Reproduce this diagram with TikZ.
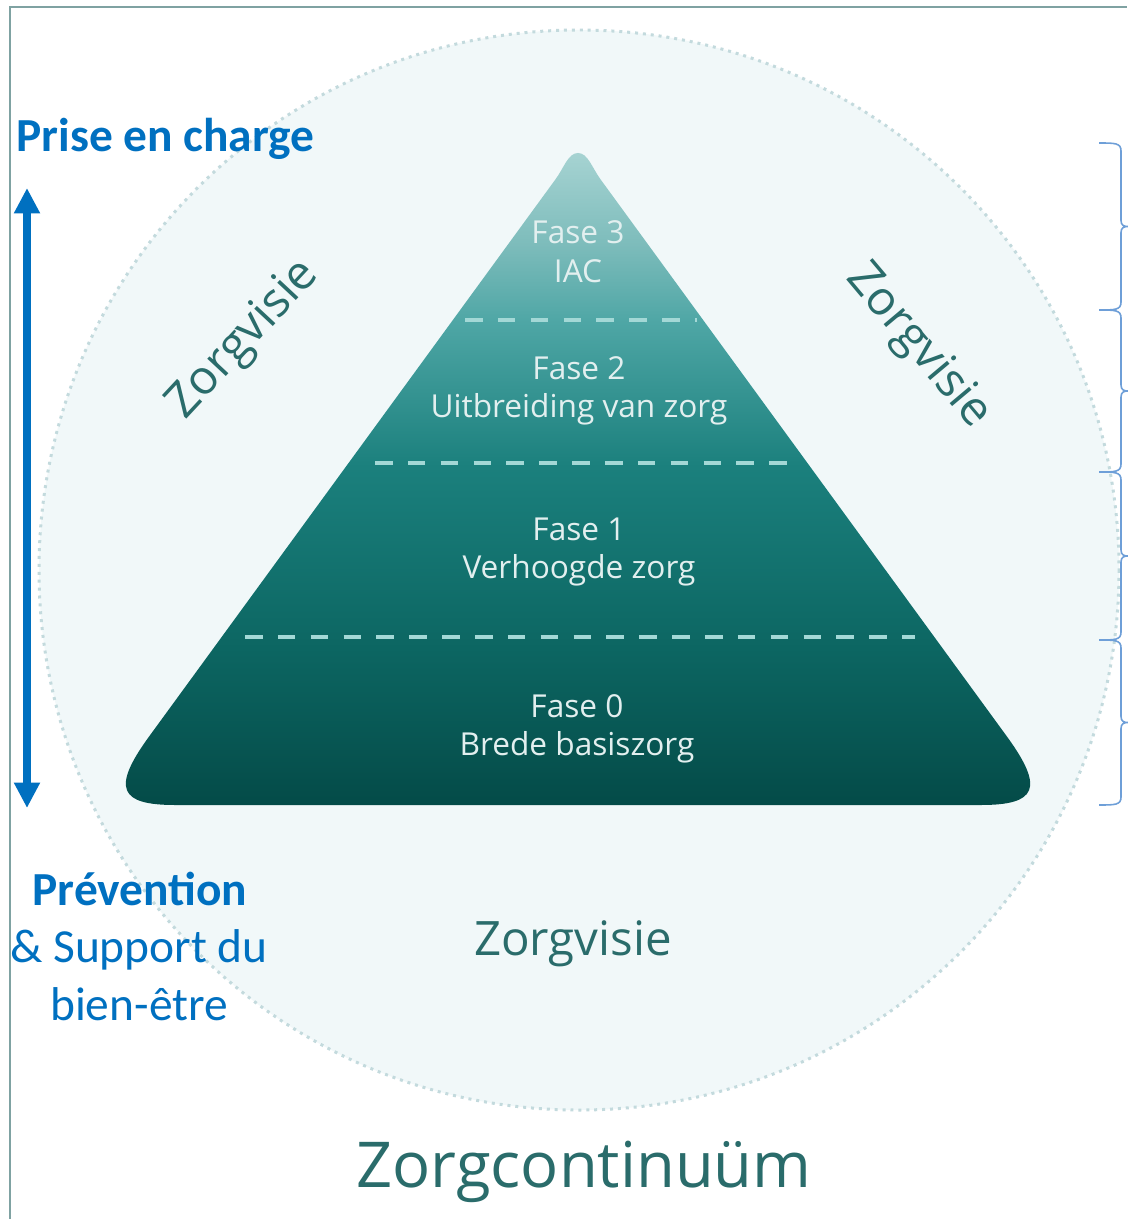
\documentclass[tikz,border=0pt]{standalone}
\usepackage{fontspec}
\setmainfont{Open Sans}
\newfontfamily\carlito{Carlito}
\usetikzlibrary{arrows.meta}

\definecolor{pyrT}{HTML}{A6D3D2}
\definecolor{pyrA}{HTML}{7DBCBB}
\definecolor{pyrB}{HTML}{4EA6A5}
\definecolor{pyrC}{HTML}{1B807D}
\definecolor{pyrD}{HTML}{0D6864}
\definecolor{pyrE}{HTML}{044B48}
\definecolor{blueText}{HTML}{0070C0}
\definecolor{zorgText}{HTML}{2A6C6B}
\definecolor{phaseText}{HTML}{E2EFEF}
\definecolor{dashLine}{HTML}{A3D8D6}
\definecolor{circleFill}{HTML}{F1F8F9}
\definecolor{circleLine}{HTML}{C3DADD}
\definecolor{frameLine}{HTML}{7FA2A2}
\definecolor{braceLine}{HTML}{6E9FD8}

\pgfdeclareverticalshading{pyramidfill}{100bp}{color(0bp)=(pyrE); color(25bp)=(pyrE); color(38bp)=(pyrD); color(51bp)=(pyrC); color(62bp)=(pyrB); color(68bp)=(pyrA); color(75bp)=(pyrT); color(100bp)=(pyrT)}

\begin{document}
\begin{tikzpicture}[x=0.02cm,y=-0.02cm]
  \tikzset{PhaseStyle/.style = {
    align         = center,
    text          = phaseText,
    font          = \fontsize{18}{22}\selectfont,
    inner sep     = 0pt
    }
  }
  \tikzset{ZorgStyle/.style = {
    text          = zorgText,
    font          = \fontsize{27}{32}\selectfont,
    inner sep     = 0pt
    }
  }
  \tikzset{BlueStyle/.style = {
    text          = blueText,
    font          = \carlito\fontsize{27}{32.6}\selectfont,
    inner sep     = 0pt
    }
  }
  \tikzset{DashStyle/.style = {
    draw          = dashLine,
    line width    = 2.3pt,
    dash pattern  = on 10pt off 8.7pt
    }
  }
  \tikzset{BraceStyle/.style = {
    draw          = braceLine,
    line width    = 0.9pt
    }
  }
  \tikzset{ArrowStyle/.style = {
    draw          = blueText,
    line width    = 4.5pt,
    arrows        = {Triangle[length=14.5pt,width=14pt]-Triangle[length=14.5pt,width=14pt]}
    }
  }

  \useasboundingbox (0,0) rectangle (1127,1219);
  \fill[white] (0,0) rectangle (1127,1219);
  % frame and circle
  \draw[frameLine, line width=1.1pt] (10,1219) -- (10,7) -- (1127,7);
  \fill[circleFill] (579,570) circle [radius=540];
  \draw[circleLine, line width=1.7pt, dash pattern=on 1.7pt off 2.8pt] (579,570) circle [radius=540];

  % pyramid
  \shade[shading=pyramidfill] (555,180) -- (148,738) .. controls (112,788) and (119,805) .. (175,805)
    -- (981,805) .. controls (1037,805) and (1044,788) .. (1008,738) -- (601,180)
    .. controls (592,168) and (588,153) .. (578,153)
    .. controls (568,153) and (564,168) .. (555,180) -- cycle;
  \draw[DashStyle] (465,320) -- (697,320);
  \draw[DashStyle] (375,463) -- (790,463);
  \draw[DashStyle] (245,637) -- (915,637);

  \node[PhaseStyle](P3) at (578,252) {Fase 3\\IAC};
  \node[PhaseStyle](P2) at (579,391) {Fase 2\\Uitbreiding van zorg};
  \node[PhaseStyle](P1) at (579,552) {Fase 1\\Verhoogde zorg};
  \node[PhaseStyle](P0) at (577,729) {Fase 0\\Brede basiszorg};

  \node[ZorgStyle, rotate=47](Z1) at (244,340) {Zorgvisie};
  \node[ZorgStyle, rotate=-50](Z2) at (918,347) {Zorgvisie};
  \node[ZorgStyle, anchor=base](Z3) at (573,955) {Zorgvisie};
  \node[ZorgStyle, anchor=base, font=\fontsize{36}{40}\selectfont](ZC) at (584,1187) {Zorgcontinuüm};

  % left side
  \node[BlueStyle, anchor=base west, font=\carlito\bfseries\fontsize{27}{32.6}\selectfont](L1) at (16,152) {Prise en charge};
  \coordinate (ArrTop) at (27,188);
  \coordinate (ArrBot) at (27,808);
  \draw[ArrowStyle] (ArrTop) -- (ArrBot);
  \node[BlueStyle, anchor=base, font=\carlito\bfseries\fontsize{27}{32.6}\selectfont](L2) at (140,905) {Prévention};
  \node[BlueStyle, anchor=base](L3) at (139,962) {\& Support du};
  \node[BlueStyle, anchor=base](L4) at (139,1020) {bien-être};

  % braces
  \foreach \ya/\yb in {143/310, 310/472, 472/640, 640/805}{
    \pgfmathsetmacro{\ym}{(\ya+\yb)/2}
    \draw[BraceStyle] (1099,\ya) .. controls (1115,\ya) and (1121,\ya) .. (1121,\ya+8)
      -- (1121,\ym-6) .. controls (1121,\ym-1) and (1124,\ym) .. (1128,\ym)
      .. controls (1124,\ym) and (1121,\ym+1) .. (1121,\ym+6)
      -- (1121,\yb-8) .. controls (1121,\yb) and (1115,\yb) .. (1099,\yb);
  }
\end{tikzpicture}
\end{document}
